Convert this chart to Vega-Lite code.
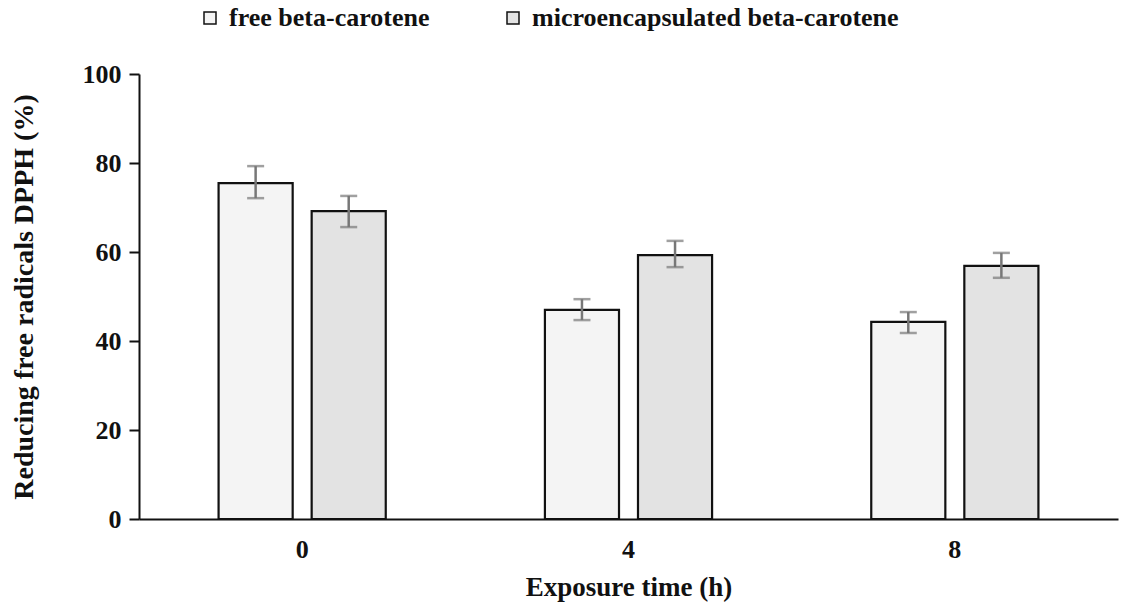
{
  "$schema": "https://vega.github.io/schema/vega-lite/v6.json",
  "autosize": "none",
  "width": 979,
  "height": 445,
  "padding": {"left": 139, "top": 74, "right": 4, "bottom": 84},
  "background": "white",
  "config": {
    "view": {"stroke": null},
    "font": "Liberation Serif",
    "axis": {"labelFont": "Liberation Serif", "titleFont": "Liberation Serif", "labelFontWeight": "bold", "titleFontWeight": "bold", "labelColor": "#111", "titleColor": "#111", "domainColor": "#111", "tickColor": "#111", "grid": false},
    "legend": {"labelFont": "Liberation Serif", "labelFontWeight": "bold"}
  },
  "data": {
    "values": [
      {"time": "0", "series": "free beta-carotene", "mean": 75.5, "lower": 72.1, "upper": 79.3},
      {"time": "0", "series": "microencapsulated beta-carotene", "mean": 69.2, "lower": 65.6, "upper": 72.6},
      {"time": "4", "series": "free beta-carotene", "mean": 47.0, "lower": 44.7, "upper": 49.4},
      {"time": "4", "series": "microencapsulated beta-carotene", "mean": 59.3, "lower": 56.6, "upper": 62.5},
      {"time": "8", "series": "free beta-carotene", "mean": 44.3, "lower": 41.8, "upper": 46.5},
      {"time": "8", "series": "microencapsulated beta-carotene", "mean": 56.9, "lower": 54.2, "upper": 59.8}
    ]
  },
  "encoding": {
    "x": {
      "field": "time", "type": "nominal", "sort": ["0", "4", "8"],
      "scale": {"paddingInner": 0, "paddingOuter": 0},
      "axis": {"title": "Exposure time (h)", "labelAngle": 0, "ticks": false, "labelPadding": 17, "labelFontSize": 26, "titleFontSize": 27, "titlePadding": 12, "domainWidth": 2}
    },
    "xOffset": {
      "field": "series", "type": "nominal",
      "scale": {"paddingInner": 0.204, "paddingOuter": 0.855}
    }
  },
  "layer": [
    {
      "mark": {"type": "bar", "stroke": "#111", "strokeWidth": 2.2},
      "encoding": {
        "y": {
          "field": "mean", "type": "quantitative",
          "scale": {"domain": [0, 100]},
          "axis": {"title": "Reducing free radicals DPPH (%)", "values": [0, 20, 40, 60, 80, 100], "tickSize": 10, "tickWidth": 2, "domainWidth": 2, "labelPadding": 8, "labelFontSize": 26, "titleFontSize": 28, "titlePadding": 44}
        },
        "fill": {
          "field": "series", "type": "nominal",
          "scale": {"domain": ["free beta-carotene", "microencapsulated beta-carotene"], "range": ["#f4f4f4", "#e3e3e3"]},
          "legend": {
            "title": null, "orient": "none", "direction": "horizontal", "columns": 2,
            "legendX": 58, "legendY": -69,
            "symbolType": "square", "symbolSize": 144, "symbolStrokeColor": "#111", "symbolStrokeWidth": 1.5,
            "labelFontSize": 26, "labelColor": "#111", "labelLimit": 0, "columnPadding": 70, "labelOffset": 6
          }
        }
      }
    },
    {
      "mark": {"type": "rule", "color": "#777", "strokeWidth": 2.5},
      "encoding": {
        "y": {"field": "lower", "type": "quantitative"},
        "y2": {"field": "upper"}
      }
    },
    {
      "mark": {"type": "tick", "color": "#777", "size": 17, "thickness": 2.5},
      "encoding": {"y": {"field": "lower", "type": "quantitative"}}
    },
    {
      "mark": {"type": "tick", "color": "#777", "size": 17, "thickness": 2.5},
      "encoding": {"y": {"field": "upper", "type": "quantitative"}}
    }
  ]
}
